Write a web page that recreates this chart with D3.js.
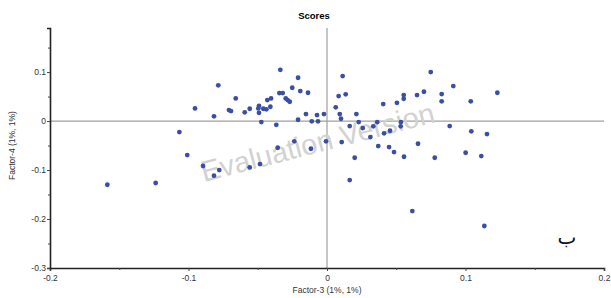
<!DOCTYPE html>
<html>
  <head>
    <style>
      body { margin: 0; background: #fff; }
      text { font-family: "Liberation Sans", Arial, sans-serif; }
    </style>
  </head>
  <body>
    <script src="https://cdn.jsdelivr.net/npm/d3@7"></script>
    <script>
      var width = 611, height = 298;

      // scores: Factor-3 (x) and Factor-4 (y)
      var factor3 = [
        -0.0785, -0.0659, -0.0953, -0.0816, -0.0708, -0.0693, -0.1066, -0.0337, -0.0209, -0.0251,
        -0.0193, -0.0137, -0.0344, -0.0320, -0.0298, -0.0284, -0.0269, -0.0404, -0.0431, -0.0409,
        -0.0491, -0.0496, -0.0460, -0.0438, -0.0558, -0.0594, -0.0491, -0.0152, -0.0072, -0.0022,
        -0.0209, -0.0110, -0.0065, -0.0474, -0.0366, 0.0113, 0.0084, 0.0135, 0.0063, 0.0092,
        0.0101, 0.0212, 0.0229, 0.0164, 0.0258, 0.0334, 0.0363, 0.0406, 0.0505, 0.0554,
        0.0554, 0.0650, 0.0534, 0.0532, 0.0412, 0.0455, 0.0749, 0.0912, 0.0700, 0.0828,
        0.0828, 0.1038, 0.1230, 0.0886, 0.1042, 0.1155, -0.1009, -0.0895, -0.0778, -0.0816,
        -0.0558, -0.0484, -0.1586, -0.1237, -0.0356, -0.0236, -0.0116, -0.0007, 0.0106, 0.0313,
        0.0370, 0.0448, 0.0484, 0.0556, 0.0657, 0.0200, 0.0164, 0.0778, 0.1001, 0.1114,
        0.0616, 0.1136
      ];
      var factor4 = [
        0.0729, 0.0463, 0.0259, 0.0096, 0.0224, 0.0204, -0.0224, 0.1047, 0.0884, 0.0680,
        0.0612, 0.0578, 0.0571, 0.0571, 0.0463, 0.0429, 0.0394, 0.0463, 0.0429, 0.0292,
        0.0312, 0.0259, 0.0251, 0.0239, 0.0251, 0.0178, 0.0169, 0.0143, 0.0122, 0.0143,
        0.0027, -0.0006, -0.0006, -0.0020, -0.0076, 0.0918, 0.0510, 0.0545, 0.0280, 0.0143,
        0.0047, 0.0143, -0.0020, -0.0102, -0.0143, -0.0108, -0.0020, 0.0347, 0.0373, 0.0531,
        0.0455, 0.0531, -0.0020, -0.0108, -0.0251, -0.0198, 0.1000, 0.0714, 0.0598, 0.0551,
        0.0402, 0.0402, 0.0578, -0.0102, -0.0210, -0.0265, -0.0694, -0.0918, -0.1000, -0.1116,
        -0.0945, -0.0878, -0.1300, -0.1265, -0.0545, -0.0414, -0.0565, -0.0414, -0.0429, -0.0327,
        -0.0510, -0.0531, -0.0633, -0.0729, -0.0463, -0.0749, -0.1204, -0.0749, -0.0647, -0.0714,
        -0.1837, -0.2143
      ];
      var xTicks = [-0.2, -0.1, 0, 0.1, 0.2];
      var yTicks = [-0.3, -0.2, -0.1, 0, 0.1];
      var xMinor = [-0.15, -0.05, 0.05, 0.15];
      var yMinor = [-0.25, -0.15, -0.05, 0.05, 0.15];

      var points = factor3.map(function (v, i) { return { x: v, y: factor4[i] }; });

      // plain hyphen for negatives, like the original
      var fmt = function (d) { return String(+d.toFixed(2)); };

      var svg = d3.select("body")
          .append("svg")
          .attr("width", width)
          .attr("height", height);

      var x = d3.scaleLinear().domain([-0.2, 0.2]).range([50, 604]);
      var y = d3.scaleLinear().domain([-0.3, 0.19]).range([268, 28]);

      // title
      svg.append("text")
        .attr("x", 314)
        .attr("y", 19)
        .attr("text-anchor", "middle")
        .style("font-size", "9.5px")
        .style("font-weight", "bold")
        .text("Scores");

      // zero lines
      svg.append("line")
        .attr("x1", x(-0.2)).attr("x2", x(0.2))
        .attr("y1", y(0)).attr("y2", y(0))
        .attr("stroke", "#a0a0a0").attr("stroke-width", 1.2);
      svg.append("line")
        .attr("x1", x(0)).attr("x2", x(0))
        .attr("y1", y(0.19)).attr("y2", y(-0.3))
        .attr("stroke", "#a0a0a0").attr("stroke-width", 1.2);

      // watermark
      svg.append("text")
        .attr("transform", "translate(320,152) rotate(-14.5)")
        .attr("text-anchor", "middle")
        .style("font-size", "29px")
        .style("fill", "#d2d2d2")
        .text("Evaluation Version");

      // axes
      var xAxis = svg.append("g")
        .attr("transform", "translate(0," + y(-0.3) + ")")
        .call(d3.axisBottom(x).tickValues(xTicks).tickSize(3).tickFormat(fmt));
      svg.append("g")
        .attr("transform", "translate(0," + y(-0.3) + ")")
        .call(d3.axisBottom(x).tickValues(xMinor).tickSize(2).tickFormat(""))
        .select(".domain").remove();

      var yAxis = svg.append("g")
        .attr("transform", "translate(" + x(-0.2) + ",0)")
        .call(d3.axisLeft(y).tickValues(yTicks).tickSize(3).tickFormat(fmt));
      svg.append("g")
        .attr("transform", "translate(" + x(-0.2) + ",0)")
        .call(d3.axisLeft(y).tickValues(yMinor).tickSize(2).tickFormat(""))
        .select(".domain").remove();

      svg.selectAll(".domain").attr("stroke", "#222").attr("stroke-width", 1.6);
      svg.selectAll(".tick line").attr("stroke", "#444");
      svg.selectAll(".tick text")
        .style("font-family", "'Liberation Sans', Arial, sans-serif")
        .style("font-size", "8.5px")
        .attr("fill", "#333");
      xAxis.selectAll(".tick text").attr("y", 7);
      yAxis.selectAll(".tick text").attr("x", -4);

      // axis titles
      svg.append("text")
        .attr("x", x(0))
        .attr("y", 293)
        .attr("text-anchor", "middle")
        .style("font-size", "8.5px")
        .attr("fill", "#333")
        .text("Factor-3 (1%, 1%)");
      svg.append("text")
        .attr("transform", "translate(15," + y(-0.05) + ") rotate(-90)")
        .attr("text-anchor", "middle")
        .style("font-size", "8.5px")
        .attr("fill", "#333")
        .text("Factor-4 (1%, 1%)");

      // points
      svg.append("g")
        .selectAll("circle")
        .data(points)
        .enter()
        .append("circle")
        .attr("cx", function (d) { return x(d.x); })
        .attr("cy", function (d) { return y(d.y); })
        .attr("r", 2.4)
        .style("fill", "#3a4ea2");

      // panel letter
      svg.append("text")
        .attr("x", 567)
        .attr("y", 244)
        .attr("text-anchor", "middle")
        .style("font-family", "'DejaVu Sans', sans-serif")
        .style("font-size", "20px")
        .attr("fill", "#111")
        .text("ب");
    </script>
  </body>
</html>
